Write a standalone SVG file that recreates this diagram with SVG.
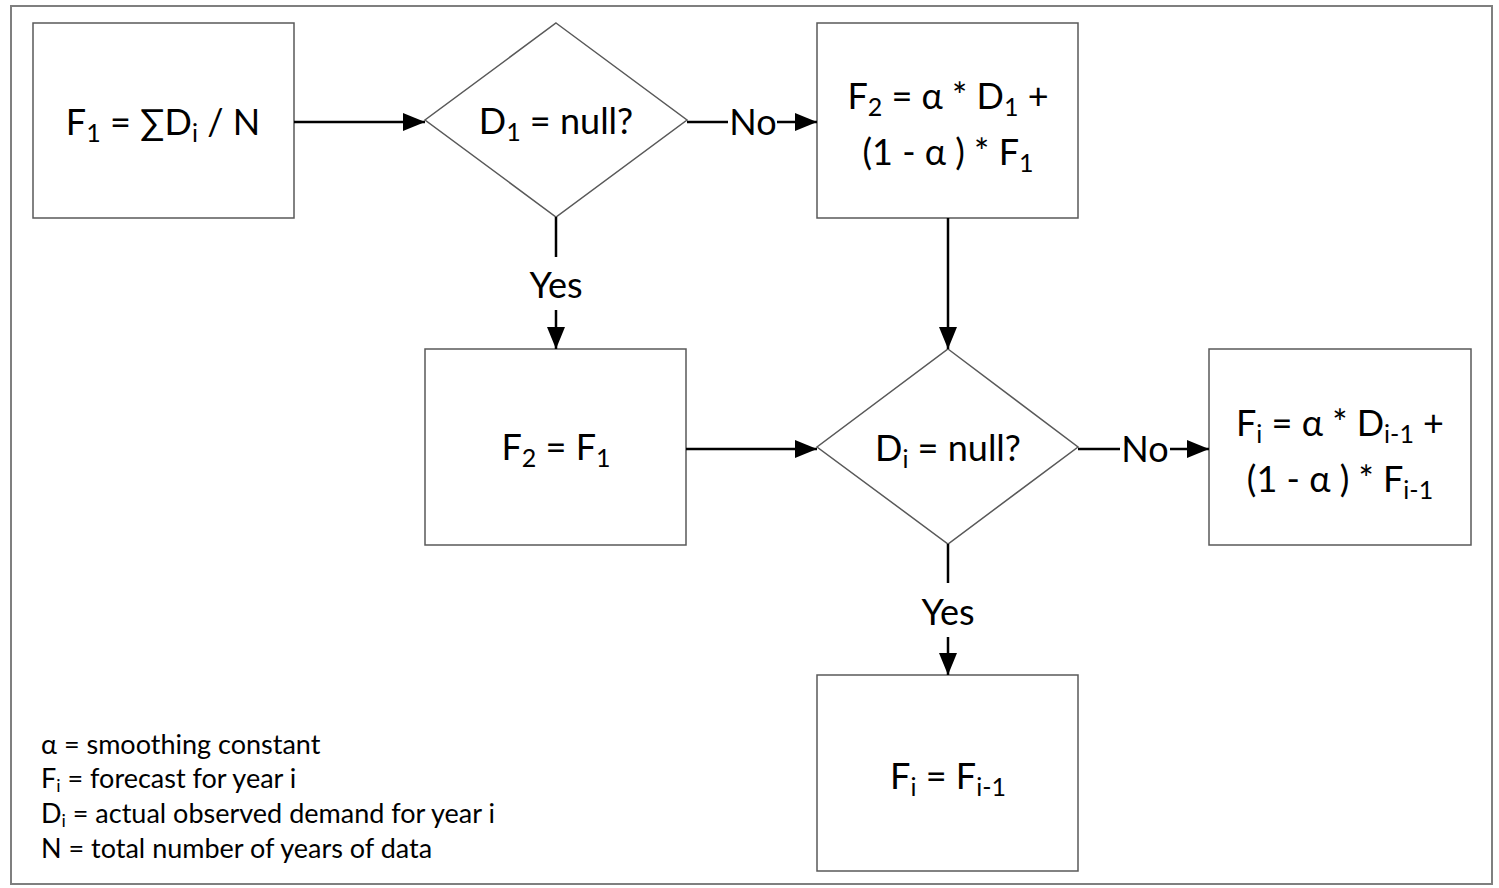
<svg xmlns="http://www.w3.org/2000/svg" width="1499" height="888" viewBox="0 0 1499 888">
<style>
.shape{fill:#fff;stroke:#595959;stroke-width:1.5}
.conn{fill:none;stroke:#000;stroke-width:2.5}
.t{font-family:Lato,"Noto Sans","DejaVu Sans",sans-serif;font-size:36px;fill:#000;text-anchor:middle}
.lg{font-family:Lato,"Noto Sans","DejaVu Sans",sans-serif;font-size:27px;fill:#000}
.s{font-size:25px}
.ls{font-size:18px}
</style>
<defs>
<marker id="ah" viewBox="0 0 22 18" refX="22" refY="9" markerWidth="22" markerHeight="18" markerUnits="userSpaceOnUse" orient="auto">
<path d="M0,0 L22,9 L0,18 Z" fill="#000"/>
</marker>
</defs>
<rect x="11" y="6" width="1481" height="878" fill="#fff" stroke="#7f7f7f" stroke-width="2"/>
<g id="n1">
<rect class="shape" x="33" y="23" width="261" height="195"/>
<text class="t" x="163" y="135">F<tspan class="s" dy="7">1</tspan><tspan dy="-7"> = ∑D</tspan><tspan class="s" dy="7">i</tspan><tspan dy="-7"> / N</tspan></text>
</g>
<g id="n2">
<polygon class="shape" points="556,23 687,120 556,217 425,120"/>
<text class="t" x="556" y="134">D<tspan class="s" dy="7">1</tspan><tspan dy="-7"> = null?</tspan></text>
</g>
<g id="n3">
<rect class="shape" x="817" y="23" width="261" height="195"/>
<text class="t" x="948" y="109">F<tspan class="s" dy="7">2</tspan><tspan dy="-7"> = α * D</tspan><tspan class="s" dy="7">1</tspan><tspan dy="-7"> +</tspan></text>
<text class="t" x="948" y="165">(1 - α ) * F<tspan class="s" dy="7">1</tspan></text>
</g>
<g id="n4">
<rect class="shape" x="425" y="349" width="261" height="196"/>
<text class="t" x="556" y="460">F<tspan class="s" dy="7">2</tspan><tspan dy="-7"> = F</tspan><tspan class="s" dy="7">1</tspan></text>
</g>
<g id="n5">
<polygon class="shape" points="948,349 1078,447 948,544 817,447"/>
<text class="t" x="948" y="461">D<tspan class="s" dy="7">i</tspan><tspan dy="-7"> = null?</tspan></text>
</g>
<g id="n6">
<rect class="shape" x="1209" y="349" width="262" height="196"/>
<text class="t" x="1340" y="436">F<tspan class="s" dy="7">i</tspan><tspan dy="-7"> = α * D</tspan><tspan class="s" dy="7">i-1</tspan><tspan dy="-7"> +</tspan></text>
<text class="t" x="1340" y="492">(1 - α ) * F<tspan class="s" dy="7">i-1</tspan></text>
</g>
<g id="n7">
<rect class="shape" x="817" y="675" width="261" height="196"/>
<text class="t" x="948" y="789">F<tspan class="s" dy="7">i</tspan><tspan dy="-7"> = F</tspan><tspan class="s" dy="7">i-1</tspan></text>
</g>
<g id="connectors">
<line class="conn" x1="294" y1="122" x2="425" y2="122" marker-end="url(#ah)"/>
<line class="conn" x1="687" y1="122" x2="728" y2="122"/>
<line class="conn" x1="777" y1="122" x2="817" y2="122" marker-end="url(#ah)"/>
<text class="t" x="753" y="135">No</text>
<line class="conn" x1="556" y1="217" x2="556" y2="257"/>
<line class="conn" x1="556" y1="310" x2="556" y2="349" marker-end="url(#ah)"/>
<text class="t" x="556" y="298">Yes</text>
<line class="conn" x1="948" y1="218" x2="948" y2="349" marker-end="url(#ah)"/>
<line class="conn" x1="686" y1="449" x2="817" y2="449" marker-end="url(#ah)"/>
<line class="conn" x1="1078" y1="449" x2="1120" y2="449"/>
<line class="conn" x1="1170" y1="449" x2="1209" y2="449" marker-end="url(#ah)"/>
<text class="t" x="1145" y="462">No</text>
<line class="conn" x1="948" y1="544" x2="948" y2="583"/>
<line class="conn" x1="948" y1="637" x2="948" y2="675" marker-end="url(#ah)"/>
<text class="t" x="948" y="625">Yes</text>
</g>
<g id="legend">
<text class="lg" x="41" y="754">α = smoothing constant</text>
<text class="lg" x="41" y="788">F<tspan class="ls" dy="4">i</tspan><tspan dy="-4"> = forecast for year i</tspan></text>
<text class="lg" x="41" y="823">D<tspan class="ls" dy="4">i</tspan><tspan dy="-4"> = actual observed demand for year i</tspan></text>
<text class="lg" x="41" y="858">N = total number of years of data</text>
</g>
</svg>
